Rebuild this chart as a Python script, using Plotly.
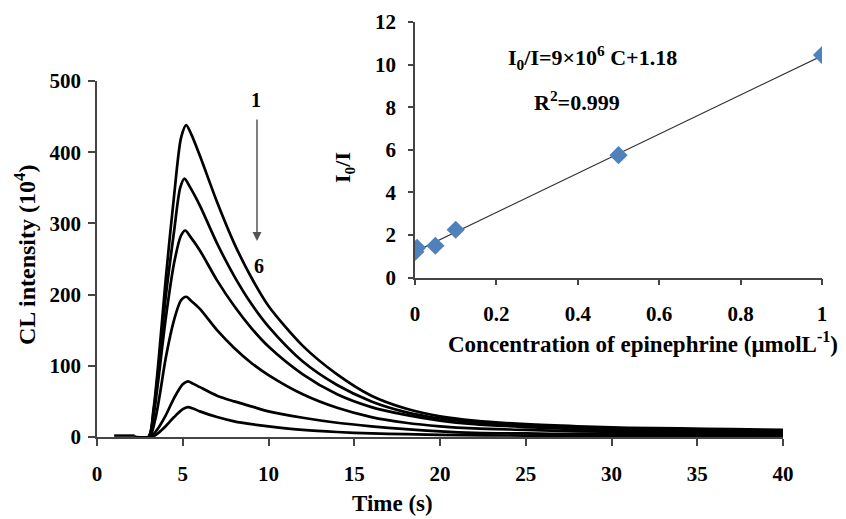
import plotly.graph_objects as go
import numpy as np

# ---------------- data ----------------
baseline_t = [1.0, 2.2]
baseline_i = [2, 2]

curve1_t = [2.2, 3.0, 3.3, 3.6, 4.0, 4.5, 4.9, 5.2, 5.5, 6.0, 7.0, 8.0, 9.0, 10, 12, 14, 16, 18, 20, 22, 25, 28, 31, 34, 37, 40]
curve1_i = [0, 0, 40, 110, 220, 340, 420, 438, 425, 395, 330, 272, 224, 184, 128, 88, 58, 40, 29, 23, 18, 15, 13, 12, 11, 10]

curve2_t = [2.2, 3.0, 3.3, 3.6, 4.0, 4.5, 4.85, 5.1, 5.4, 6.0, 7.0, 8.0, 9.0, 10, 12, 14, 16, 18, 20, 22, 25, 28, 31, 34, 37, 40]
curve2_i = [0, 0, 36, 100, 195, 290, 350, 363, 352, 325, 272, 226, 187, 155, 106, 73, 50, 35, 26, 21, 16, 13, 11, 10, 9, 8]

curve3_t = [2.2, 3.0, 3.3, 3.6, 4.0, 4.5, 4.9, 5.15, 5.45, 6.0, 7.0, 8.0, 9.0, 10, 12, 14, 16, 18, 20, 22, 25, 28, 31, 34, 37, 40]
curve3_i = [0, 0, 30, 85, 165, 245, 283, 290, 281, 262, 220, 184, 153, 127, 88, 60, 42, 31, 23, 18, 14, 11, 9, 8, 7, 7]

curve4_t = [2.2, 3.05, 3.4, 3.7, 4.0, 4.5, 4.9, 5.2, 5.5, 6.0, 7.0, 8.0, 9.0, 10, 12, 14, 16, 18, 20, 22, 25, 28, 31, 34, 37, 40]
curve4_i = [0, 0, 25, 65, 110, 165, 192, 197, 191, 180, 150, 125, 104, 87, 60, 41, 28, 20, 15, 12, 10, 8, 7, 6, 5, 5]

curve5_t = [2.2, 3.1, 3.5, 4.0, 4.5, 5.0, 5.3, 5.6, 6.0, 7.0, 8.0, 9.0, 10, 12, 14, 16, 18, 20, 22, 25, 28, 31, 34, 37, 40]
curve5_i = [0, 0, 10, 30, 55, 74, 78, 75, 70, 58, 50, 43, 36, 27, 20, 15, 11, 8, 6, 5, 4, 4, 4, 4, 4]

curve6_t = [2.2, 3.2, 3.6, 4.0, 4.5, 5.0, 5.3, 5.6, 6.0, 7.0, 8.0, 9.0, 10, 12, 14, 16, 18, 20, 25, 30, 35, 40]
curve6_i = [0, 0, 6, 15, 28, 39, 42, 40, 36, 28, 22, 18, 15, 10, 7, 5, 4, 3, 2, 2, 2, 2]

conc = [0.001, 0.005, 0.05, 0.1, 0.5, 1.0]
ratio = [1.22, 1.40, 1.50, 2.25, 5.75, 10.45]

main_xticks = [0, 5, 10, 15, 20, 25, 30, 35, 40]
main_yticks = [0, 100, 200, 300, 400, 500]
inset_xticks = [0, 0.2, 0.4, 0.6, 0.8, 1.0]
inset_xlabels = ["0", "0.2", "0.4", "0.6", "0.8", "1"]
inset_yticks = [0, 2, 4, 6, 8, 10, 12]

# ---------------- layout geometry (pixels of the 846x519 view) ----------------
OFF = 8                      # page body margin of the html page
VW, VH = 846, 519
W, H = VW - OFF, VH - OFF
L, R, T, B = 97 - OFF, 24, 22 - OFF, 82
PW, PH = W - L - R, H - T - B


def px(x):
    return (x - OFF - L) / PW


def py(y):
    return (H - B - (y - OFF)) / PH


FONT = "Liberation Serif"
fig = go.Figure()

curves = [(curve1_t, curve1_i), (curve2_t, curve2_i), (curve3_t, curve3_i),
          (curve4_t, curve4_i), (curve5_t, curve5_i), (curve6_t, curve6_i)]

fig.add_trace(go.Scatter(x=baseline_t, y=baseline_i, mode="lines",
                         line=dict(color="black", width=2.5),
                         xaxis="x", yaxis="y", showlegend=False, hoverinfo="skip"))
for t, i in curves:
    fig.add_trace(go.Scatter(x=t, y=i, mode="lines",
                             line=dict(color="black", width=2.7, shape="spline", smoothing=0.8),
                             xaxis="x", yaxis="y", showlegend=False))

# inset: fit line + points
slope, intercept = np.polyfit(conc, ratio, 1)
fit_x = [0.0, 1.0]
fit_y = [intercept + slope * v for v in fit_x]
fig.add_trace(go.Scatter(x=fit_x, y=fit_y, mode="lines",
                         line=dict(color="#333333", width=1.2),
                         xaxis="x2", yaxis="y2", showlegend=False))
fig.add_trace(go.Scatter(x=conc, y=ratio, mode="markers",
                         marker=dict(symbol="diamond", size=14, color="#4F81BD",
                                     line=dict(width=0)),
                         xaxis="x2", yaxis="y2", showlegend=False))

tickfont = dict(family=FONT, size=21, color="black", weight="bold")
axis_common = dict(showgrid=False, zeroline=False, showline=True, linecolor="#444444",
                   linewidth=1.5, ticks="outside", tickcolor="#444444", tickwidth=1.5,
                   tickfont=tickfont, automargin=False)

fig.update_layout(
    width=W, height=H,
    margin=dict(l=L, r=R, t=T, b=B),
    paper_bgcolor="white", plot_bgcolor="rgba(0,0,0,0)",
    xaxis=dict(domain=[0, px(783)], range=[0, 40], tickvals=main_xticks,
               ticklen=7, ticklabelstandoff=10, anchor="y", **axis_common),
    yaxis=dict(domain=[0, py(81)], range=[0, 500], tickvals=main_yticks,
               ticklen=7, ticklabelstandoff=3, anchor="x", **axis_common),
    xaxis2=dict(domain=[px(415), 1], range=[0, 1], tickvals=inset_xticks,
                ticktext=inset_xlabels, ticklen=6, ticklabelstandoff=10,
                anchor="y2", **axis_common),
    yaxis2=dict(domain=[py(277.7), 1], range=[0, 12], tickvals=inset_yticks,
                ticklen=5, ticklabelstandoff=8, anchor="x2", **axis_common),
)


def note(x, y, text, size=19, angle=0):
    fig.add_annotation(x=px(x), y=py(y), xref="paper", yref="paper", text=text,
                       showarrow=False, textangle=angle, xanchor="center", yanchor="middle",
                       font=dict(family=FONT, size=size, color="black", weight="bold"))


note(392, 504, "Time (s)", size=23)
note(25, 255, "CL intensity (10<sup>4</sup>)", size=24, angle=-90)
note(643, 342, "Concentration of epinephrine (μmolL<sup>-1</sup>)", size=23)
note(344, 168, "I<sub>0</sub>/I", size=22, angle=-90)
note(592, 57, "I<sub>0</sub>/I=9×10<sup>6</sup> C+1.18", size=22)
note(577, 101, "R<sup>2</sup>=0.999", size=22)
note(256, 100, "1", size=20)
note(259, 266, "6", size=20)

# arrow 1 -> 6
fig.add_annotation(x=px(257), y=py(241), xref="paper", yref="paper", ax=0, ay=-123,
                   axref="pixel", ayref="pixel", text="", showarrow=True,
                   arrowhead=2, arrowsize=1.2, arrowwidth=1.5, arrowcolor="#555555")

fig.write_html("out.html")
